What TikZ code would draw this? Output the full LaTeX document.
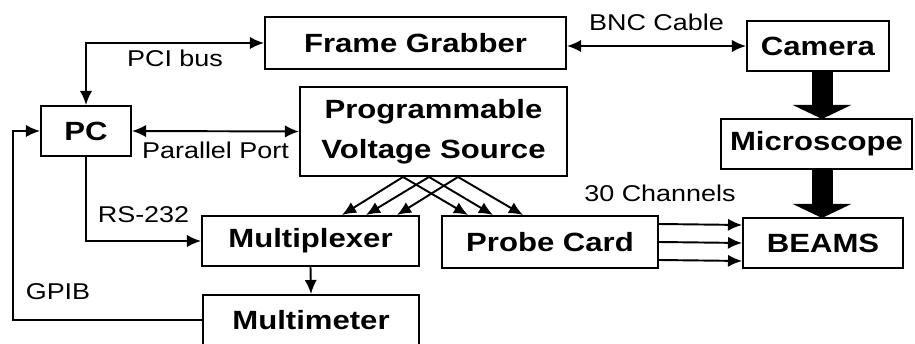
\documentclass[tikz,border=0pt]{standalone}
\usepackage{fontspec}
\setmainfont{Liberation Sans}[FakeStretch=1.18]
\usetikzlibrary{arrows.meta}

\tikzset{
  unit/.style={draw, line width=1.1pt, inner sep=0pt, minimum height=1cm,
    align=center, font=\fontsize{15}{23}\selectfont\bfseries},
  link/.style={font=\fontsize{13}{15}\selectfont},
  bigarrow/.style={line width=0.42cm, -{Triangle[width=1.16cm,length=0.28cm]}}
}

\begin{document}
\begin{tikzpicture}[>={Latex[length=8pt,width=7pt]}, line width=1.1pt]
    \useasboundingbox (0,0) rectangle (18.3,6.88);
    \node[unit, minimum width=6.02cm, minimum height=1.04cm] (FG) at (8.31,6.02) {Frame Grabber};
    \node[unit, minimum width=2.84cm] (Cam) at (16.36,5.96) {Camera};
    \node[unit, minimum width=1.8cm] (PC) at (1.72,4.26) {PC};
    \node[unit, minimum width=5.34cm, minimum height=1.78cm] (PVS) at (8.67,4.25) {Programmable\\Voltage Source};
    \node[unit, minimum width=3.82cm] (Micro) at (16.33,4.0) {Microscope};
    \node[unit, minimum width=4.34cm] (Mux) at (6.21,2.06) {Multiplexer};
    \node[unit, minimum width=4.32cm, minimum height=1.04cm] (Probe) at (11.0,2.04) {Probe Card};
    \node[unit, minimum width=3.2cm] (Beams) at (16.46,2.02) {BEAMS};
    \node[unit, minimum width=4.32cm] (Mmeter) at (6.22,0.48) {Multimeter};
    \coordinate (bend) at (0.26,0.48);

    \draw[<->] (PC.north) |- node[link, pos=0.75, below] {PCI bus} (FG.west);
    \draw[<->] (FG.east |- Cam.west) -- node[link, above=0.16cm] {BNC Cable} (Cam.west);
    \draw[<->] (PC.east) -- node[link, below=0.08cm] {Parallel Port} (PVS.west);
    \draw[->] (PC.south) |- node[link, pos=0.75, above=0.22cm] {RS-232} (Mux.west);
    \draw[->] (Mmeter.west) -- (bend) |- (PC.west);
    \node[link] (gpib) at (1.16,1.04) {GPIB};
    \draw[->] (Mux.south) -- (Mmeter.north);

    \foreach \s/\m/\p in {-0.61/0.63/-1.64, -0.09/1.11/-1.14, 0.49/1.73/-0.54} {
        \draw[->] ([xshift=\s cm]PVS.south) -- ([xshift=\m cm]Mux.north);
        \draw[->] ([xshift=\s cm]PVS.south) -- ([xshift=\p cm]Probe.north);
    }

    \foreach \dy in {0.36,0,-0.36}
        \draw[->] ([yshift=\dy cm]Probe.east) -- ([yshift=\dy cm]Beams.west);
    \node[link] (chan) at (13.2,3.02) {30 Channels};

    \draw[bigarrow] (16.44,5.46) -- (16.44,4.5);
    \draw[bigarrow] (16.44,3.5) -- (16.44,2.52);
\end{tikzpicture}
\end{document}
